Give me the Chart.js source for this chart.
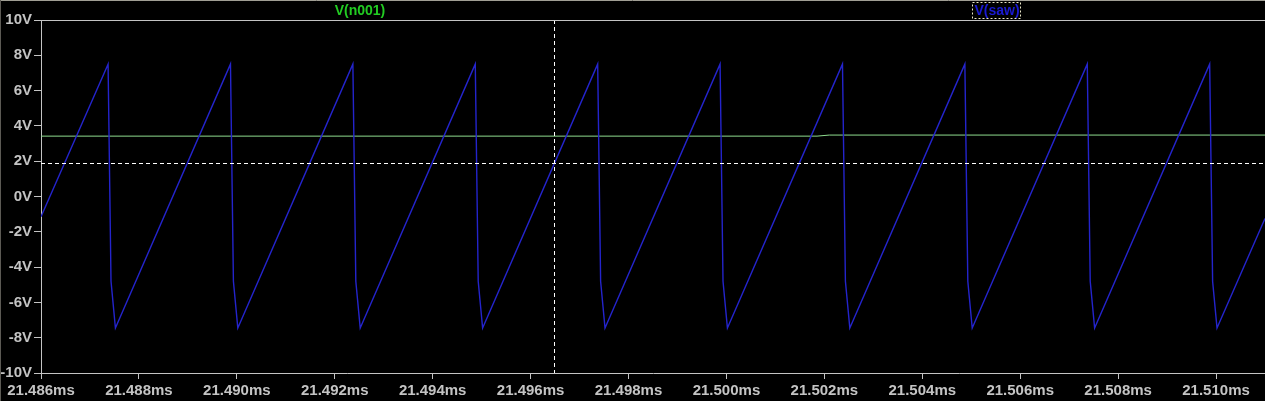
<!DOCTYPE html>
<html>
<head>
<meta charset="utf-8">
<script src="https://cdn.jsdelivr.net/npm/chart.js"></script>
<style>
  body { margin: 0; background: #000; }
  canvas { display: block; }
</style>
</head>
<body>
<canvas id="myChart" width="1265" height="401"></canvas>
<script>
// time in ms, voltage in V
const xTicks = [21.486, 21.488, 21.490, 21.492, 21.494, 21.496, 21.498, 21.500, 21.502, 21.504, 21.506, 21.508, 21.510];
const yTicks = [10, 8, 6, 4, 2, 0, -2, -4, -6, -8, -10];

const sawT = [
  21.48600,
  21.48737, 21.48743, 21.48752,
  21.48987, 21.48993, 21.49002,
  21.49237, 21.49243, 21.49252,
  21.49487, 21.49493, 21.49502,
  21.49737, 21.49743, 21.49752,
  21.49987, 21.49993, 21.50002,
  21.50237, 21.50243, 21.50252,
  21.50487, 21.50493, 21.50502,
  21.50737, 21.50743, 21.50752,
  21.50987, 21.50993, 21.51002,
  21.51100
];
const sawV = [
  -1.15,
  7.50, -4.8, -7.45,
  7.50, -4.8, -7.45,
  7.50, -4.8, -7.45,
  7.50, -4.8, -7.45,
  7.50, -4.8, -7.45,
  7.50, -4.8, -7.45,
  7.50, -4.8, -7.45,
  7.50, -4.8, -7.45,
  7.50, -4.8, -7.45,
  7.50, -4.8, -7.45,
  -1.25
];

const n001T = [21.48600, 21.50185, 21.50210, 21.51100];
const n001V = [3.42, 3.42, 3.48, 3.48];

const cursorT = 21.49647;
const cursorV = 1.87;

const axisColor = "#c4c4c4";
const labelFont = { family: "Liberation Sans", size: 15, weight: "bold" };

function toPoints(ts, vs) {
  return ts.map((t, i) => ({ x: t, y: vs[i] }));
}

const ltspiceLook = {
  id: "ltspiceLook",
  beforeDraw(chart) {
    const c = chart.ctx;
    c.save();
    c.fillStyle = "#000";
    c.fillRect(0, 0, chart.width, chart.height);
    c.restore();
  },
  afterDatasetsDraw(chart) {
    const c = chart.ctx;
    const a = chart.chartArea;
    const x = chart.scales.x;
    const y = chart.scales.y;
    c.save();
    // cursor
    c.strokeStyle = "#ffffff";
    c.lineWidth = 1;
    c.setLineDash([4, 3]);
    const cx = Math.round(x.getPixelForValue(cursorT)) + 0.5;
    const cy = Math.round(y.getPixelForValue(cursorV)) + 0.5;
    c.beginPath();
    c.moveTo(cx, a.top);
    c.lineTo(cx, a.bottom);
    c.moveTo(a.left, cy);
    c.lineTo(a.right, cy);
    c.stroke();
    c.setLineDash([]);
    // top frame line
    c.strokeStyle = axisColor;
    c.beginPath();
    c.moveTo(a.left, a.top + 0.5);
    c.lineTo(a.right, a.top + 0.5);
    c.stroke();
    // window edge
    c.strokeStyle = "#a09e94";
    c.beginPath();
    c.moveTo(0, 0.5);
    c.lineTo(chart.width, 0.5);
    c.stroke();
    c.strokeStyle = "#5c5a54";
    c.beginPath();
    c.moveTo(0.5, 0);
    c.lineTo(0.5, chart.height);
    c.stroke();
    // trace labels
    c.font = "bold 14px 'Liberation Sans'";
    c.textAlign = "center";
    c.textBaseline = "middle";
    c.fillStyle = "#22cc22";
    c.fillText("V(n001)", 360, 11);
    c.fillStyle = "#1a1ad2";
    c.fillText("V(saw)", 997, 11);
    c.strokeStyle = "#e8e6c8";
    c.setLineDash([2, 2]);
    c.strokeRect(972.5, 2.5, 48, 16);
    c.restore();
  }
};

const ctx = document.getElementById("myChart");

new Chart(ctx, {
  type: "line",
  data: {
    datasets: [
      {
        label: "V(saw)",
        data: toPoints(sawT, sawV),
        borderColor: "#2424cc",
        borderWidth: 1.4,
        pointRadius: 0,
        tension: 0,
      },
      {
        label: "V(n001)",
        data: toPoints(n001T, n001V),
        borderColor: "#8fdc8f",
        borderWidth: 1,
        pointRadius: 0,
        tension: 0,
      },
    ],
  },
  options: {
    responsive: false,
    animation: false,
    devicePixelRatio: 1,
    layout: { padding: { top: 20, left: 0, right: 0, bottom: 0 } },
    plugins: {
      legend: { display: false },
      tooltip: { enabled: false },
    },
    scales: {
      x: {
        type: "linear",
        min: 21.486,
        max: 21.511,
        afterBuildTicks: (scale) => {
          scale.ticks = xTicks.map((v) => ({ value: v }));
        },
        afterFit: (scale) => {
          scale.height = 28;
        },
        ticks: {
          autoSkip: false,
          maxRotation: 0,
          color: axisColor,
          font: labelFont,
          padding: 3,
          callback: (v) => v.toFixed(3) + "ms",
        },
        grid: {
          drawOnChartArea: false,
          drawTicks: true,
          tickLength: 6,
          color: axisColor,
        },
        border: { display: true, color: axisColor },
      },
      y: {
        min: -10,
        max: 10,
        afterBuildTicks: (scale) => {
          scale.ticks = yTicks.map((v) => ({ value: v }));
        },
        afterFit: (scale) => {
          scale.width = 41;
        },
        ticks: {
          autoSkip: false,
          color: axisColor,
          font: labelFont,
          padding: 2,
          callback: (v) => v + "V",
        },
        grid: {
          drawOnChartArea: false,
          drawTicks: true,
          tickLength: 7,
          color: axisColor,
        },
        border: { display: true, color: axisColor },
      },
    },
  },
  plugins: [ltspiceLook],
});
</script>
</body>
</html>
